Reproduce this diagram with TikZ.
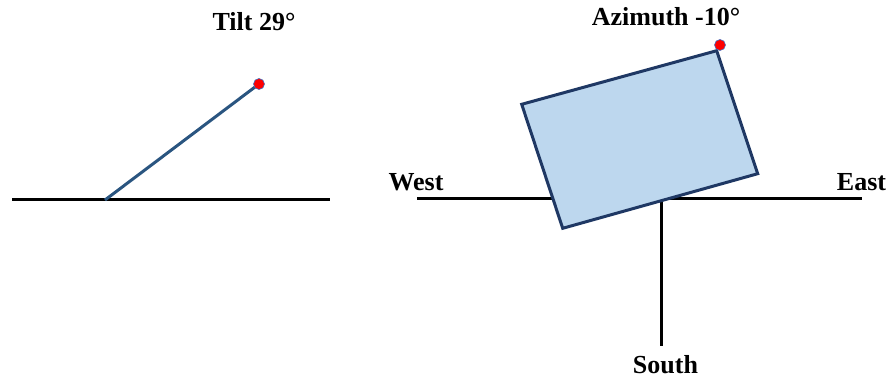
\documentclass[tikz,border=0pt]{standalone}
\usepackage{fontspec}
\setmainfont{Liberation Serif}
\definecolor{tiltblue}{HTML}{2A5580}
\definecolor{panelfill}{HTML}{BDD7EE}
\definecolor{paneledge}{HTML}{1F3864}
\definecolor{dotred}{HTML}{FF0000}
\definecolor{dotedge}{HTML}{4472C4}
\begin{document}
\begin{tikzpicture}[x=1pt,y=-1pt,
  lbl/.style={font=\fontsize{26}{28}\selectfont\bfseries, anchor=base, inner sep=0pt},
  ground/.style={line width=3pt, black},
  dot/.style={circle, fill=dotred, draw=dotedge, line width=0.6pt, minimum size=11pt, inner sep=0pt}]
\useasboundingbox (0,0) rectangle (890,379);
% left: tilt
\coordinate (gl) at (12,200);
\coordinate (gr) at (330,200);
\coordinate (base) at (105,200);
\coordinate (tip) at (259,84);
\draw[ground] (gl) -- (gr);
\draw[line width=3pt, tiltblue] (base) -- (tip);
\node[dot] (tdot) at (tip) {};
\node[lbl] (tilt) at (254,30.5) {Tilt 29°};
% right: azimuth
\coordinate (wl) at (417,199);
\coordinate (er) at (862,199);
\coordinate (cx) at (661.5,199);
\coordinate (sb) at (661.5,346);
\draw[ground] (wl) -- (er);
\draw[ground] (cx) -- (sb);
\coordinate (p1) at (521.7,104.3);
\coordinate (p2) at (716.7,50.7);
\coordinate (p3) at (757.7,173.7);
\coordinate (p4) at (562.7,228.3);
\draw[fill=panelfill, draw=paneledge, line width=3pt, line join=miter] (p1) -- (p2) -- (p3) -- (p4) -- cycle;
\node[dot] (adot) at (720,45) {};
\node[lbl] (az) at (666,26) {Azimuth -10°};
\node[lbl] (west) at (416,190.5) {West};
\node[lbl] (east) at (861.5,190.5) {East};
\node[lbl] (south) at (665.5,373) {South};
\end{tikzpicture}
\end{document}
